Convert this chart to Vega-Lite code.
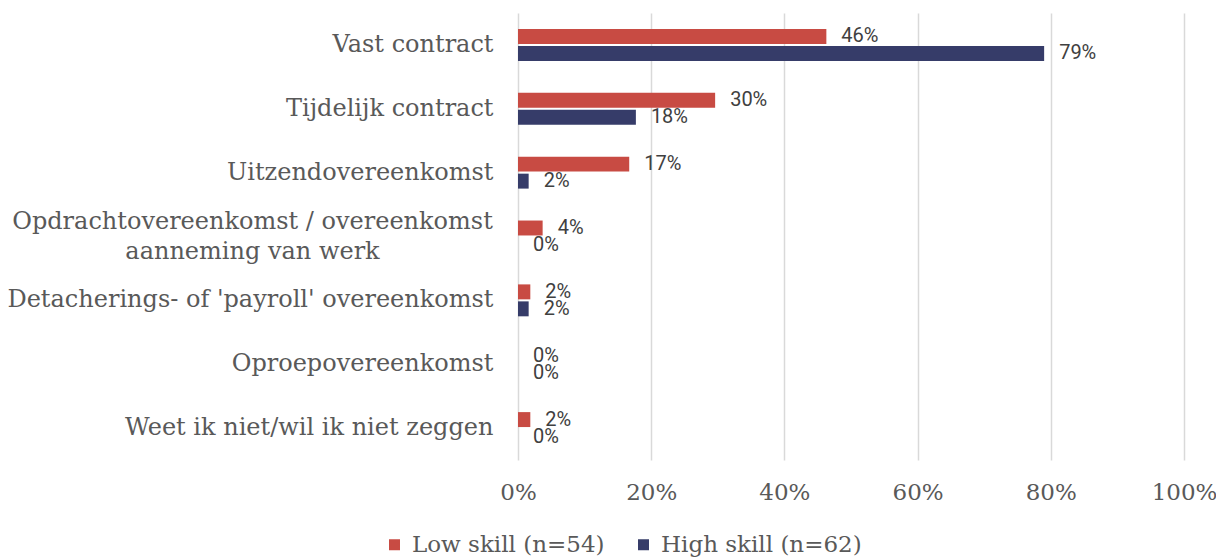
{
  "$schema": "https://vega.github.io/schema/vega-lite/v6.json",
  "width": 666,
  "height": 447,
  "autosize": {"type": "none"},
  "padding": {"left": 518, "top": 13, "right": 32, "bottom": 97},
  "background": "white",
  "config": {"view": {"stroke": null}, "font": "DejaVu Serif"},
  "data": {
    "values": [
      {"category": "Vast contract", "group": "Low skill (n=54)", "value": 0.463},
      {"category": "Vast contract", "group": "High skill (n=62)", "value": 0.790},
      {"category": "Tijdelijk contract", "group": "Low skill (n=54)", "value": 0.296},
      {"category": "Tijdelijk contract", "group": "High skill (n=62)", "value": 0.177},
      {"category": "Uitzendovereenkomst", "group": "Low skill (n=54)", "value": 0.167},
      {"category": "Uitzendovereenkomst", "group": "High skill (n=62)", "value": 0.016},
      {"category": "Opdrachtovereenkomst / overeenkomst|aanneming van werk", "group": "Low skill (n=54)", "value": 0.037},
      {"category": "Opdrachtovereenkomst / overeenkomst|aanneming van werk", "group": "High skill (n=62)", "value": 0},
      {"category": "Detacherings- of 'payroll' overeenkomst", "group": "Low skill (n=54)", "value": 0.0185},
      {"category": "Detacherings- of 'payroll' overeenkomst", "group": "High skill (n=62)", "value": 0.016},
      {"category": "Oproepovereenkomst", "group": "Low skill (n=54)", "value": 0},
      {"category": "Oproepovereenkomst", "group": "High skill (n=62)", "value": 0},
      {"category": "Weet ik niet/wil ik niet zeggen", "group": "Low skill (n=54)", "value": 0.0185},
      {"category": "Weet ik niet/wil ik niet zeggen", "group": "High skill (n=62)", "value": 0}
    ]
  },
  "encoding": {
    "y": {
      "field": "category",
      "type": "nominal",
      "sort": [
        "Vast contract",
        "Tijdelijk contract",
        "Uitzendovereenkomst",
        "Opdrachtovereenkomst / overeenkomst|aanneming van werk",
        "Detacherings- of 'payroll' overeenkomst",
        "Oproepovereenkomst",
        "Weet ik niet/wil ik niet zeggen"
      ],
      "scale": {"paddingInner": 0.5, "paddingOuter": 0.25},
      "axis": {
        "title": null,
        "domain": false,
        "ticks": false,
        "labelPadding": {"condition": {"test": "indexof(datum.value, '|') >= 0", "value": 266}, "value": 25},
        "labelAlign": {"condition": {"test": "indexof(datum.value, '|') >= 0", "value": "center"}, "value": "right"},
        "labelOffset": {"condition": {"test": "indexof(datum.value, '|') >= 0", "value": -15}, "value": 0},
        "labelFontSize": 24,
        "labelColor": "#595959",
        "labelLimit": 700,
        "labelLineHeight": 30,
        "labelExpr": "split(datum.label, '|')"
      }
    },
    "yOffset": {
      "field": "group",
      "type": "nominal",
      "sort": ["Low skill (n=54)", "High skill (n=62)"],
      "scale": {"paddingInner": 0.12}
    },
    "x": {
      "field": "value",
      "type": "quantitative",
      "scale": {"domain": [0, 1]},
      "axis": {
        "title": null,
        "values": [0, 0.2, 0.4, 0.6, 0.8, 1],
        "format": ".0%",
        "grid": true,
        "gridColor": "#d9d9d9",
        "gridWidth": 1.5,
        "domain": false,
        "ticks": false,
        "labelFlush": false,
        "labelPadding": 21,
        "labelFontSize": 23,
        "labelColor": "#595959"
      }
    }
  },
  "layer": [
    {
      "mark": {"type": "bar"},
      "encoding": {
        "color": {
          "field": "group",
          "type": "nominal",
          "scale": {
            "domain": ["Low skill (n=54)", "High skill (n=62)"],
            "range": ["#C84B43", "#363C69"]
          },
          "legend": {
            "title": null,
            "orient": "none",
            "direction": "horizontal",
            "legendX": -135,
            "legendY": 520,
            "symbolType": "square",
            "symbolSize": 121,
            "symbolStrokeWidth": 0,
            "labelFontSize": 23,
            "labelColor": "#595959",
            "labelOffset": 6,
            "columnPadding": 27,
            "labelLimit": 400
          }
        }
      }
    },
    {
      "mark": {
        "type": "text",
        "align": "left",
        "baseline": "middle",
        "dx": 15,
        "font": "Roboto",
        "fontSize": 20,
        "color": "#404040"
      },
      "encoding": {
        "text": {"field": "value", "type": "quantitative", "format": ".0%"}
      }
    }
  ]
}
